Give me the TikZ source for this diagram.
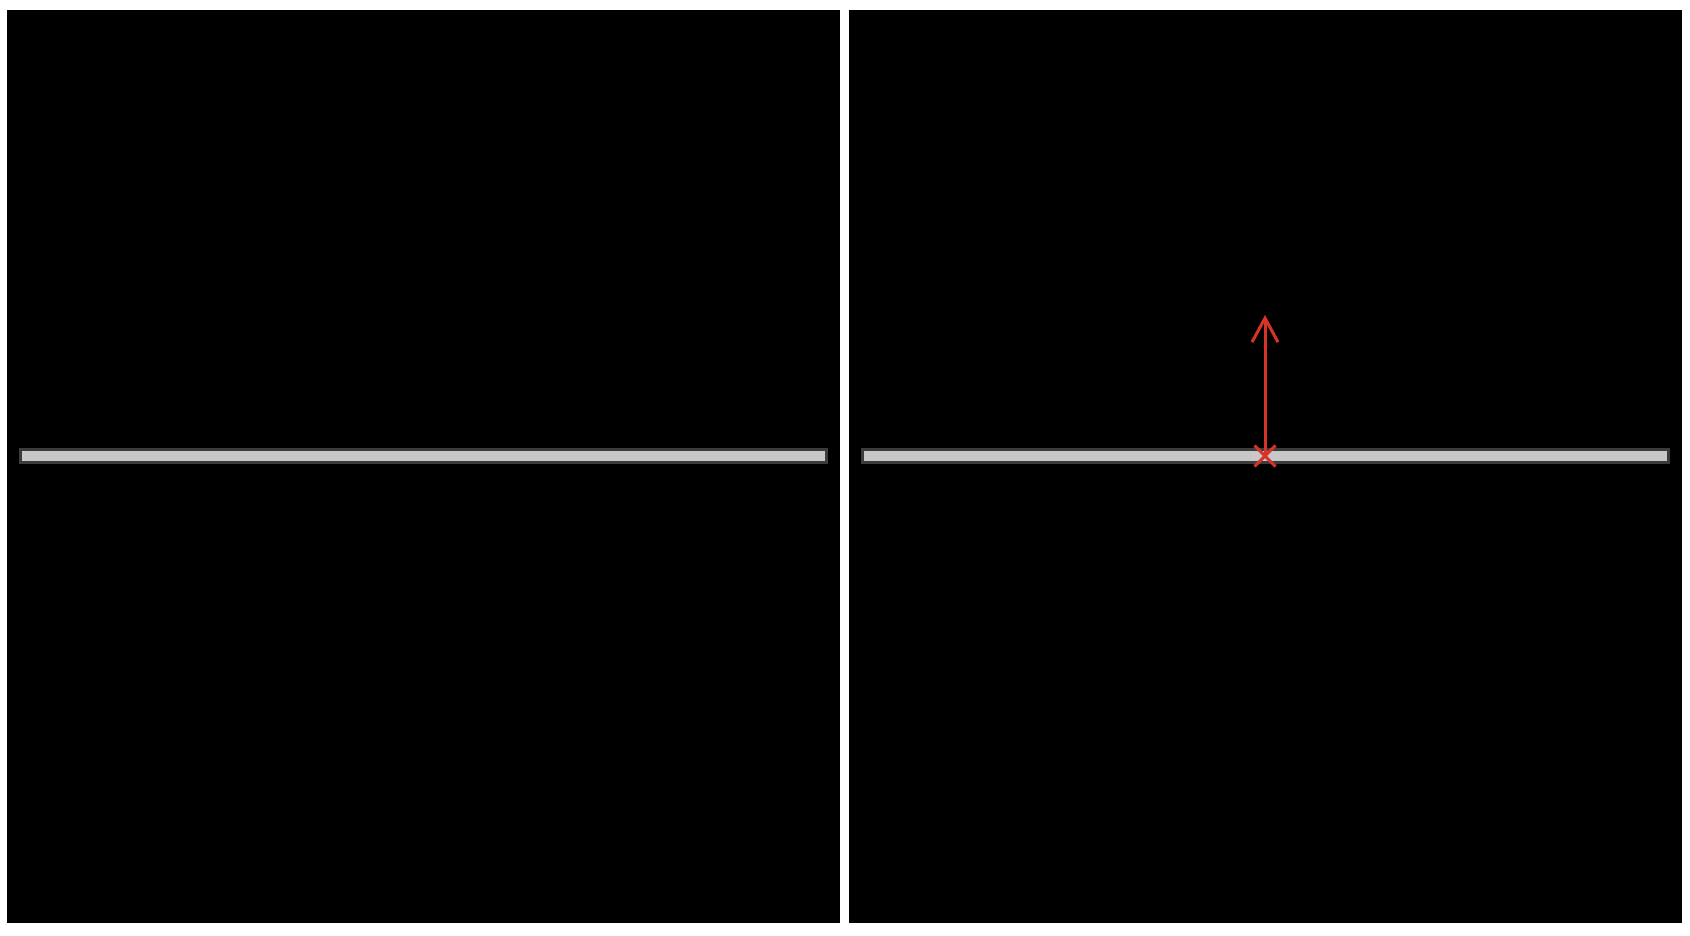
\documentclass[tikz,border=0pt]{standalone}
\usetikzlibrary{arrows.meta,shapes.misc}

\definecolor{barfill}{RGB}{200,200,200}
\definecolor{baredge}{RGB}{60,60,60}
\definecolor{hitred}{RGB}{215,52,40}

\tikzset{
    panel/.style={fill=black},
    bar/.style={fill=barfill, draw=baredge, line width=3pt},
    ray/.style={hitred, line width=3pt, -{Straight Barb[length=24pt, width=26pt]}},
    hitmark/.style={cross out, draw=hitred, line width=3pt, minimum size=18pt, inner sep=0pt}
}

\begin{document}
\begin{tikzpicture}[x=1pt, y=-1pt]
    % Page
    \useasboundingbox (0,0) rectangle (1690,935);
    \fill[white] (0,0) rectangle (1690,935);

    % Panels and bars (left: before, right: after)
    \foreach \x in {7, 849}{
        \fill[panel] (\x,10) rectangle ++(833,913);
        \draw[bar] (\x+13,449.5) rectangle ++(806,13);
    }

    % Hit point and ray
    \node[hitmark] (hit) at (1265,456) {};
    \coordinate (tip) at (1265,315);
    \draw[ray] (hit.center) -- (tip);

\end{tikzpicture}
\end{document}
